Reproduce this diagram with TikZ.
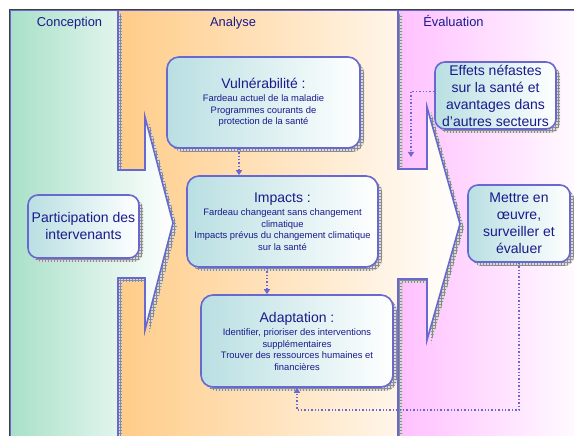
\documentclass[tikz,border=0pt]{standalone}
\usepackage{fontspec}
\setmainfont{Liberation Sans}
\usepackage{xcolor}
\usepackage{tikz}
\usetikzlibrary{arrows.meta,shadows,patterns}
\newcommand{\titlefont}{\fontsize{14}{17}\selectfont}

\begin{document}
\begin{tikzpicture}[x=1pt,y=1pt,
  panel/.style={draw=lineColor,line width=1.6pt,line join=miter,
    general shadow={shadow xshift=4pt,shadow yshift=-4pt,fill=gray!30},
    general shadow={shadow xshift=4pt,shadow yshift=-4pt,pattern=grid,pattern color=gray!90}},
  box/.style={panel,rounded corners=12pt,left color=boxColor,right color=white,
    text=textColor,align=center,inner sep=2pt,font=\fontsize{9.4}{11.5}\selectfont},
  bigtext/.style={font=\fontsize{14}{17}\selectfont},
  heading/.style={text=textColor,anchor=base,inner sep=0pt,font=\fontsize{12.9}{15}\selectfont},
  flow/.style={draw=lineColor,line width=1.4pt,dotted,-{Triangle[length=5pt,width=6pt]}}]
\definecolor{lineColor}{RGB}{104,104,208}
\definecolor{textColor}{RGB}{26,26,140}
\definecolor{boxColor}{RGB}{185,223,226}
\definecolor{greenColor}{RGB}{168,224,200}
\definecolor{orangeColor}{RGB}{255,204,136}
\definecolor{pinkColor}{RGB}{255,192,255}
\path[use as bounding box,fill=white] (0,0) rectangle (574,436);
\clip (0,0) rectangle (574,436);

\path[panel,left color=pinkColor,right color=white] (398,-10) rectangle (590,426);

\path[panel,left color=orangeColor,right color=white] (118,-10) -- (118,426) -- (398,426) -- (398,267) -- (427,267) -- (427,329) -- (460,212) -- (427,96) -- (427,157) -- (398,157) -- (398,-10) -- cycle;

\path[panel,left color=greenColor,right color=white] (10,-10) -- (10,426) -- (118,426) -- (118,266) -- (145,266) -- (145,319) -- (173,213) -- (145,106) -- (145,158) -- (118,158) -- (118,-10) -- cycle;

\draw[line width=1pt,black!75] (9.5,0) -- (9.5,426.5) -- (574,426.5);

\node[heading] (hconc) at ( 69.5,409.7) {Conception};
\node[heading] (hana) at (233.0,409.7) {Analyse};
\node[heading] (heval) at (453.5,409.7) {Évaluation};

\node[box,bigtext,rounded corners=10pt,minimum width=111pt,minimum height=63pt] (particip) at (83.5,209.5) {Participation des\\intervenants};

\node[box,minimum width=193pt,minimum height=91pt] (vuln) at (263.5,333.5) {{\titlefont Vulnérabilité :}\\[2pt]Fardeau actuel de la maladie\\Programmes courants de\\protection de la santé};

\node[box,minimum width=191pt,minimum height=91pt] (impacts) at (282.5,214.5) {{\titlefont Impacts :}\\[2pt]Fardeau changeant sans changement\\climatique\\Impacts prévus du changement climatique\\sur la santé};

\node[box,minimum width=192pt,minimum height=92pt] (adapt) at (297.0,95.0) {{\titlefont Adaptation :}\\[2pt]Identifier, prioriser des interventions\\supplémentaires\\Trouver des ressources humaines et\\financières};

\node[box,bigtext,rounded corners=10pt,minimum width=121pt,minimum height=67pt] (effets) at (495.5,340.5) {Effets néfastes\\sur la santé et\\avantages dans\\d'autres secteurs};

\node[box,bigtext,rounded corners=10pt,minimum width=102pt,minimum height=77pt] (mettre) at (519.0,212.5) {Mettre en\\œuvre,\\surveiller et\\évaluer};

\coordinate (retour) at (0,26);
\coordinate (retro) at (411,279);

\draw[flow] ([xshift=-24.5pt]vuln.south) coordinate (v1) -- (v1 |- impacts.north);

\draw[flow] ([xshift=-15.5pt]impacts.south) coordinate (i1) -- (i1 |- adapt.north);

\draw[flow] (mettre.south) -- (mettre.south |- retour) -- (adapt.south |- retour) -- (adapt.south);

\draw[flow] ([yshift=4pt]effets.west) -| (retro);
\end{tikzpicture}
\end{document}
